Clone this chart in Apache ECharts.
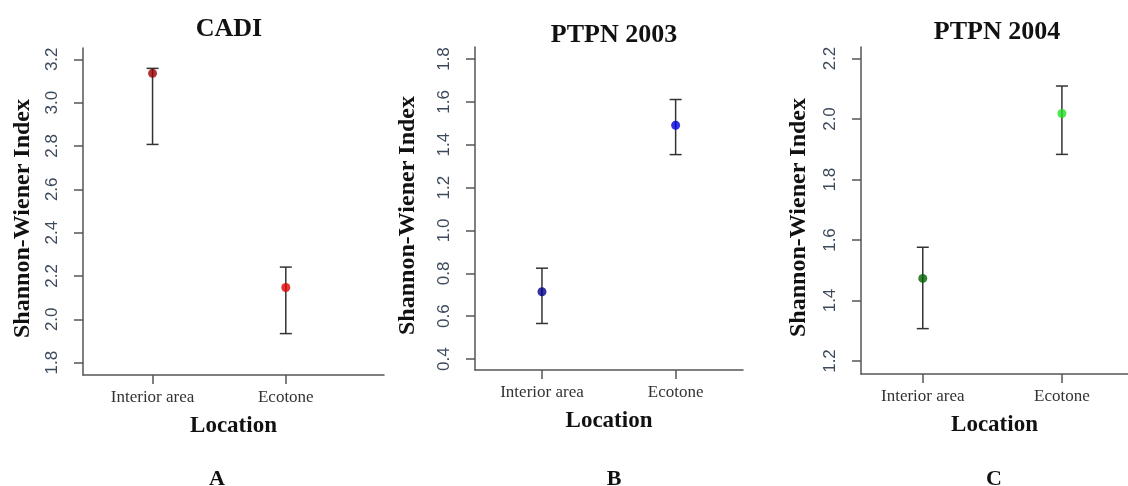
<!DOCTYPE html>
<html>
<head>
<meta charset="utf-8">
<script src="https://cdn.jsdelivr.net/npm/echarts@6/dist/echarts.min.js"></script>
<style>
html,body{margin:0;padding:0;background:#fff;}
#chart{width:1128px;height:486px;}
</style>
</head>
<body>
<div id="chart"></div>
<script>
// ---- data ----
const categories = ['Interior area', 'Ecotone'];
const panelTitles = ['CADI', 'PTPN 2003', 'PTPN 2004'];
const panelLetters = ['A', 'B', 'C'];

const cadiMean  = [3.135, 2.147];
const cadiLower = [2.807, 1.934];
const cadiUpper = [3.158, 2.241];

const ptpn2003Mean  = [0.714, 1.491];
const ptpn2003Lower = [0.566, 1.354];
const ptpn2003Upper = [0.824, 1.611];

const ptpn2004Mean  = [1.473, 2.018];
const ptpn2004Lower = [1.307, 1.883];
const ptpn2004Upper = [1.576, 2.109];

const cadiTicks     = [1.8, 2.0, 2.2, 2.4, 2.6, 2.8, 3.0, 3.2];
const ptpn2003Ticks = [0.4, 0.6, 0.8, 1.0, 1.2, 1.4, 1.6, 1.8];
const ptpn2004Ticks = [1.2, 1.4, 1.6, 1.8, 2.0, 2.2];

// ---- styling / layout ----
const serif = '"Liberation Serif", "Times New Roman", serif';
const sans = '"Liberation Sans", Arial, sans-serif';
const axisColor = '#555555';

const panels = [
  { mean: cadiMean, lower: cadiLower, upper: cadiUpper, ticks: cadiTicks,
    colors: ['#990000', '#e00000'],
    grid: { left: 83, top: 48, width: 301, height: 327 },
    xMin: 0.478, xMax: 2.737, yMin: 1.743, yMax: 3.252,
    titleX: 224, titleY: 11, letterX: 217, nameGap: 48 },
  { mean: ptpn2003Mean, lower: ptpn2003Lower, upper: ptpn2003Upper, ticks: ptpn2003Ticks,
    colors: ['#00008b', '#0000e0'],
    grid: { left: 475, top: 47, width: 268, height: 323 },
    xMin: 0.499, xMax: 2.504, yMin: 0.349, yMax: 1.856,
    titleX: 609, titleY: 17, letterX: 614, nameGap: 55 },
  { mean: ptpn2004Mean, lower: ptpn2004Lower, upper: ptpn2004Upper, ticks: ptpn2004Ticks,
    colors: ['#006400', '#22e022'],
    grid: { left: 861, top: 47, width: 267, height: 327 },
    xMin: 0.556, xMax: 2.475, yMin: 1.157, yMax: 2.238,
    titleX: 992, titleY: 14, letterX: 994, nameGap: 50 }
];

const grids = [], xAxes = [], yAxes = [], series = [], titles = [];

panels.forEach((p, i) => {
  grids.push(Object.assign({ containLabel: false }, p.grid));
  xAxes.push({
    type: 'value', gridIndex: i, min: p.xMin, max: p.xMax,
    name: 'Location', nameLocation: 'middle', nameGap: 40,
    nameTextStyle: { fontFamily: serif, fontWeight: 'bold', fontSize: 23, color: '#111' },
    splitLine: { show: false },
    axisLine: { show: true, lineStyle: { color: axisColor, width: 1.5 } },
    axisTick: { show: true, length: 9, customValues: [1, 2], lineStyle: { color: axisColor, width: 1.5 } },
    axisLabel: { customValues: [1, 2], margin: 14, fontFamily: serif, fontSize: 17, color: '#333',
      formatter: v => categories[Math.round(v) - 1] }
  });
  yAxes.push({
    type: 'value', gridIndex: i, min: p.yMin, max: p.yMax,
    name: 'Shannon-Wiener Index', nameLocation: 'middle', nameRotate: 90, nameGap: p.nameGap,
    nameTextStyle: { fontFamily: serif, fontWeight: 'bold', fontSize: 24, color: '#111', padding: [0, 14, 0, 0] },
    splitLine: { show: false },
    axisLine: { show: true, lineStyle: { color: axisColor, width: 1.5 } },
    axisTick: { show: true, length: 9, customValues: p.ticks, lineStyle: { color: axisColor, width: 1.5 } },
    axisLabel: { customValues: p.ticks, rotate: 90, margin: 22, fontFamily: sans, fontSize: 17, color: '#3d4a5c',
      formatter: v => Number(v).toFixed(1) }
  });
  // error bars
  series.push({
    type: 'custom', xAxisIndex: i, yAxisIndex: i,
    data: categories.map((c, k) => [k + 1, p.lower[k], p.upper[k]]),
    renderItem: (params, api) => {
      const x = api.value(0);
      const lo = api.coord([x, api.value(1)]);
      const hi = api.coord([x, api.value(2)]);
      const hw = 6;
      const st = { stroke: '#333', lineWidth: 1.5 };
      return { type: 'group', children: [
        { type: 'line', shape: { x1: lo[0], y1: lo[1], x2: hi[0], y2: hi[1] }, style: st },
        { type: 'line', shape: { x1: lo[0] - hw, y1: lo[1], x2: lo[0] + hw, y2: lo[1] }, style: st },
        { type: 'line', shape: { x1: hi[0] - hw, y1: hi[1], x2: hi[0] + hw, y2: hi[1] }, style: st }
      ]};
    },
    z: 2
  });
  // means
  series.push({
    type: 'scatter', xAxisIndex: i, yAxisIndex: i, symbol: 'circle', symbolSize: 9,
    data: categories.map((c, k) => ({ value: [k + 1, p.mean[k]], itemStyle: { color: p.colors[k] } })),
    z: 3
  });
  titles.push({ text: panelTitles[i], left: p.titleX, top: p.titleY, textAlign: 'center',
    textStyle: { fontFamily: serif, fontWeight: 'bold', fontSize: 26, color: '#111' } });
  titles.push({ text: panelLetters[i], left: p.letterX, top: 468, padding: 0, textAlign: 'center',
    textStyle: { fontFamily: serif, fontWeight: 'bold', fontSize: 22, color: '#111' } });
});

const chart = echarts.init(document.getElementById('chart'), null, { renderer: 'canvas' });
chart.setOption({
  animation: false,
  backgroundColor: '#ffffff',
  title: titles,
  grid: grids,
  xAxis: xAxes,
  yAxis: yAxes,
  series: series
});
</script>
</body>
</html>
